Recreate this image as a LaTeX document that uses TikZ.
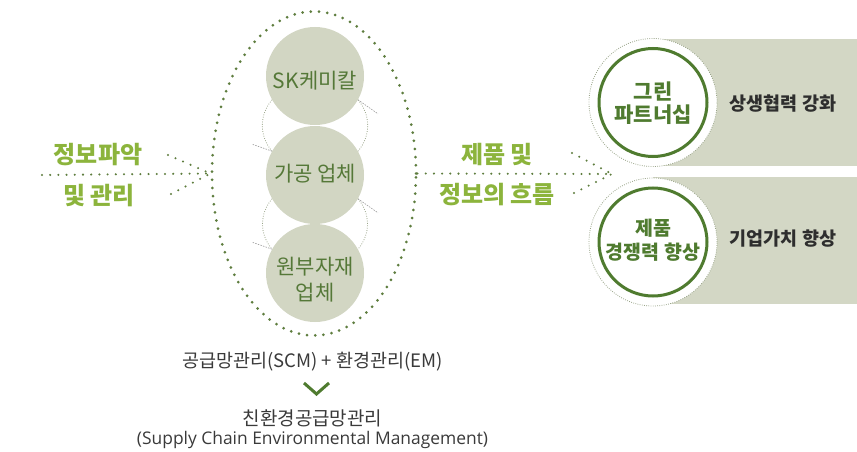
\documentclass[tikz,border=0pt]{standalone}
\usepackage{fontspec}
\setmainfont{Noto Sans CJK KR}
\newfontfamily\latinfont{Open Sans}
\usetikzlibrary{shapes.geometric}
\definecolor{lgreen}{HTML}{8CB43C}
\definecolor{dotgreen}{HTML}{5E7D3E}
\definecolor{circfill}{HTML}{D2D6C3}
\definecolor{circtext}{HTML}{557838}
\definecolor{ring}{HTML}{4F7B2F}
\definecolor{rectfill}{HTML}{D3D7C5}
\definecolor{darktext}{HTML}{2E2E2E}
\definecolor{bottext}{HTML}{3A3A3A}
\definecolor{thingray}{HTML}{9AA58A}
\begin{document}
\begin{tikzpicture}[x=1pt,y=-1pt,
  bigdots/.style={draw=dotgreen,line width=3pt,dash pattern=on 0pt off 8.2pt,line cap=round},
  arrdots/.style={draw=dotgreen,line width=2.3pt,dash pattern=on 0pt off 8.2pt,line cap=round},
  member/.style={circle,fill=circfill,minimum size=98pt,inner sep=0pt},
  membertext/.style={text=circtext,font=\fontsize{21}{26}\selectfont,inner sep=0pt,align=center},
  linkarc/.style={draw=thingray,line width=0.8pt,dash pattern=on 0.8pt off 1.6pt},
  tick/.style={draw=gray!80,line width=0.6pt,dash pattern=on 1.5pt off 1.2pt},
  flowtext/.style={text=lgreen,font=\bfseries\fontsize{24}{27}\selectfont,inner sep=0pt},
  outerring/.style={circle,fill=white,draw=thingray,line width=0.8pt,dash pattern=on 0.8pt off 1.4pt,minimum size=128pt,inner sep=0pt},
  innerring/.style={circle,fill=white,draw=ring,line width=3pt,minimum size=108pt,inner sep=0pt},
  ringtext/.style={text=ring,inner sep=0pt},
  sidetext/.style={text=darktext,font=\bfseries\fontsize{18.5}{22}\selectfont,inner sep=0pt},
  bottomtext/.style={text=bottext,inner sep=0pt,align=center}]
\useasboundingbox (0,0) rectangle (857,452);
\fill[white] (0,0) rectangle (857,452);

% right panels
\fill[rectfill] (653,39) rectangle (857,166);
\fill[rectfill] (653,177) rectangle (857,304);

% big dotted ellipse
\node[ellipse,minimum width=204pt,minimum height=324pt,inner sep=0pt,bigdots] (ell) at (314,173.5) {};

% member circles
\node[member] (c1) at (315,76) {};
\node[member] (c2) at (315,175) {};
\node[member] (c3) at (315,273) {};
\node[membertext] (t1) at (315,81) {SK케미칼};
\node[membertext] (t2) at (315,174) {가공 업체};
\node[membertext] (t3) at (315,280) {원부자재\\업체};

% links between members
\draw[linkarc] (c1.209) to[bend right=40] (c2.151);
\draw[linkarc] (c1.331) to[bend left=40] (c2.29);
\draw[linkarc] (c2.209) to[bend right=40] (c3.151);
\draw[linkarc] (c2.331) to[bend left=40] (c3.29);
\draw[tick] (c2.151) -- ++(-20,-7);
\draw[tick] (c3.151) -- ++(-20,-7);
\draw[tick] (c1.331) -- ++(20,14);
\draw[tick] (c2.331) -- ++(20,14);

% left flow
\coordinate (lstart) at (42,175);
\coordinate (lup) at (168,155);
\coordinate (ldown) at (171,194);
\draw[arrdots] (lstart) -- (ell.west);
\draw[arrdots] (lup) -- (ell.west);
\draw[arrdots] (ldown) -- (ell.west);
\node[flowtext] (lt1) at (98,155) {정보파악};
\node[flowtext] (lt2) at (99,196) {및 관리};

% middle flow
\coordinate (rtip) at (612,174);
\coordinate (rup) at (572,153);
\coordinate (rdown) at (574,193);
\draw[arrdots] (ell.east) -- (rtip);
\draw[arrdots] (rup) -- (rtip);
\draw[arrdots] (rdown) -- (rtip);
\node[flowtext] (mt1) at (497,154) {제품 및};
\node[flowtext] (mt2) at (497,195) {정보의 흐름};

% result circles
\node[outerring] (o1) at (653,102.5) {};
\node[innerring] (g1) at (653,102.5) {};
\node[ringtext,font=\bfseries\fontsize{21}{25}\selectfont] (g1a) at (653,91) {그린};
\node[ringtext,font=\bfseries\fontsize{21}{25}\selectfont] (g1b) at (653,115) {파트너십};
\node[outerring] (o2) at (653,242) {};
\node[innerring] (g2) at (653,242) {};
\node[ringtext,font=\bfseries\fontsize{19.5}{23}\selectfont] (g2a) at (653,228) {제품};
\node[ringtext,font=\bfseries\fontsize{19.5}{23}\selectfont] (g2b) at (653,252) {경쟁력 향상};

\node[sidetext] (s1) at (783,104) {상생협력 강화};
\node[sidetext] (s2) at (783,239) {기업가치 향상};

% bottom
\node[bottomtext,font=\fontsize{18.5}{22}\selectfont] (b1) at (312.5,362) {공급망관리(SCM) + 환경관리(EM)};
\coordinate (chl) at (304,383);
\coordinate (chm) at (316.5,394);
\coordinate (chr) at (329,383);
\draw[ring,line width=3pt] (chl) -- (chm) -- (chr);
\node[bottomtext,font=\fontsize{19}{22}\selectfont] (b2) at (312.5,418) {친환경공급망관리};
\node[bottomtext,font=\latinfont\fontsize{17.4}{20}\selectfont] (b3) at (312.5,440) {(Supply Chain Environmental Management)};
\end{tikzpicture}
\end{document}
